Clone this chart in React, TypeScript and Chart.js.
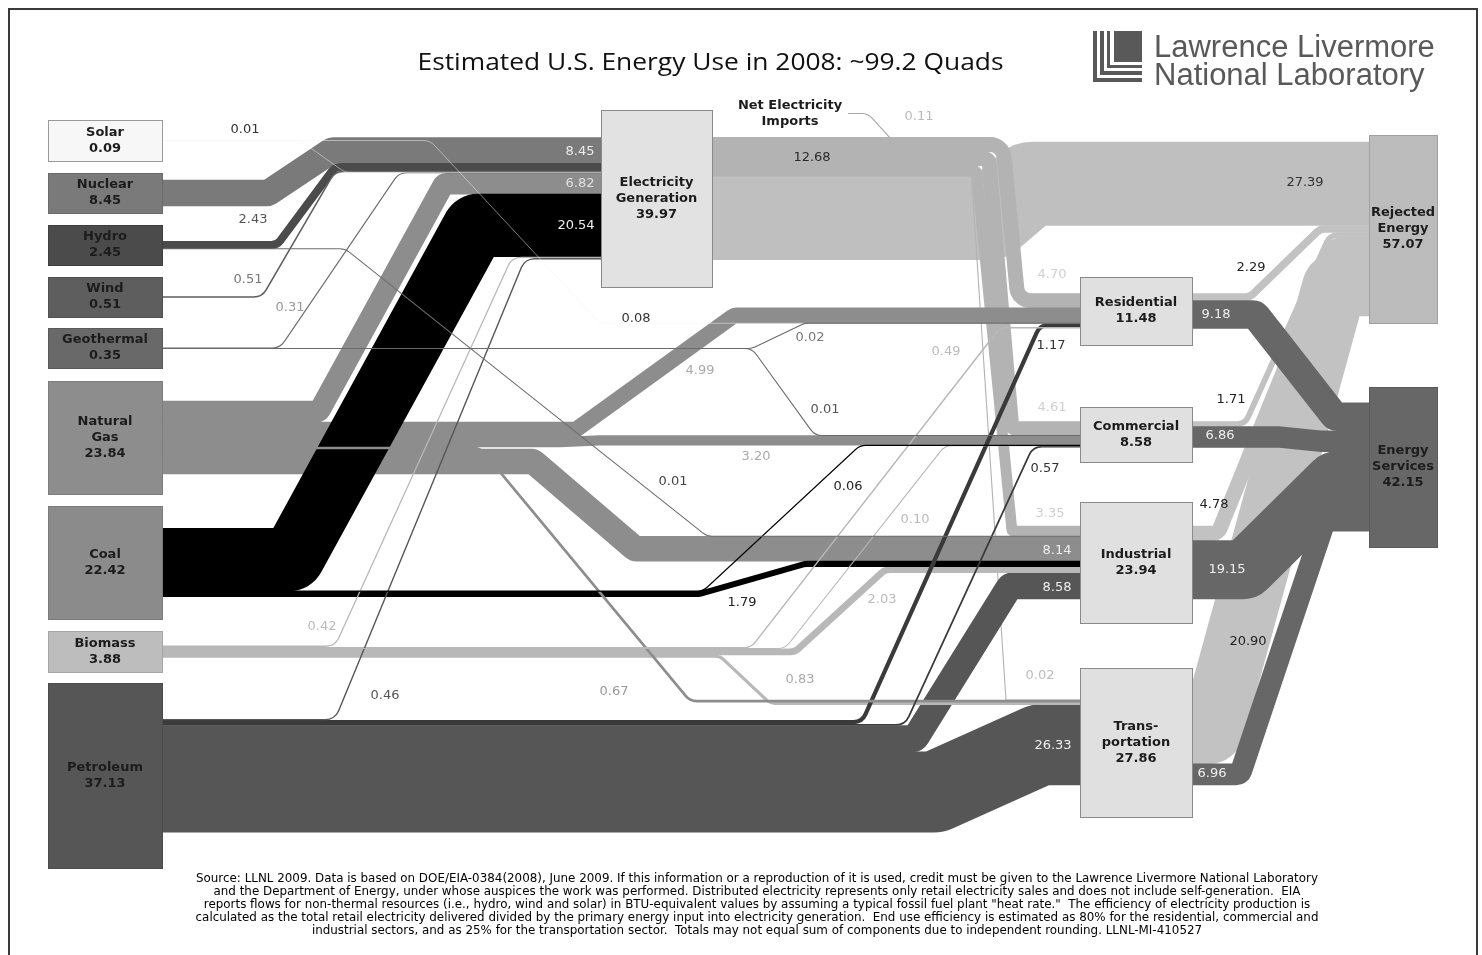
import React, { useEffect, useRef } from 'react';
import { Chart, registerables } from 'chart.js';

Chart.register(...registerables);

// ---------------- DATA ----------------
const nodeIds = ['solar', 'nuclear', 'hydro', 'wind', 'geothermal', 'gas', 'coal', 'biomass', 'petroleum', 'imports', 'elec', 'residential', 'commercial', 'industrial', 'transportation', 'rejected', 'services'];
const nodeNames = ['Solar', 'Nuclear', 'Hydro', 'Wind', 'Geothermal', 'Natural\nGas', 'Coal', 'Biomass', 'Petroleum', 'Net Electricity\nImports', 'Electricity\nGeneration', 'Residential', 'Commercial', 'Industrial', 'Trans-\nportation', 'Rejected\nEnergy', 'Energy\nServices'];
const nodeValues = [0.09, 8.45, 2.45, 0.51, 0.35, 23.84, 22.42, 3.88, 37.13, 0.11, 39.97, 11.48, 8.58, 23.94, 27.86, 57.07, 42.15];

const linkFrom = ['solar', 'solar', 'nuclear', 'hydro', 'hydro', 'wind', 'geothermal', 'geothermal', 'geothermal', 'gas', 'gas', 'gas', 'gas', 'gas', 'coal', 'coal', 'coal', 'biomass', 'biomass', 'biomass', 'biomass', 'biomass', 'petroleum', 'petroleum', 'petroleum', 'petroleum', 'petroleum', 'imports', 'elec', 'elec', 'elec', 'elec', 'elec', 'residential', 'residential', 'commercial', 'commercial', 'industrial', 'industrial', 'transportation', 'transportation'];
const linkTo = ['elec', 'residential', 'elec', 'elec', 'industrial', 'elec', 'elec', 'residential', 'commercial', 'elec', 'residential', 'commercial', 'transportation', 'industrial', 'elec', 'commercial', 'industrial', 'elec', 'residential', 'commercial', 'industrial', 'transportation', 'elec', 'residential', 'commercial', 'industrial', 'transportation', 'elec', 'residential', 'commercial', 'industrial', 'transportation', 'rejected', 'rejected', 'services', 'rejected', 'services', 'rejected', 'services', 'rejected', 'services'];
const linkValues = [0.01, 0.08, 8.45, 2.43, 0.01, 0.51, 0.31, 0.02, 0.01, 6.82, 4.99, 3.20, 0.67, 8.14, 20.54, 0.06, 1.79, 0.42, 0.49, 0.10, 2.03, 0.83, 0.46, 1.17, 0.57, 8.58, 26.33, 0.11, 4.70, 4.61, 3.35, 0.02, 27.39, 2.29, 9.18, 1.71, 6.86, 4.78, 19.15, 20.90, 6.96];

const titleText = 'Estimated U.S. Energy Use in 2008: ~99.2 Quads';
const logoLines = ['Lawrence Livermore', 'National Laboratory'];
const footerLines = [
  'Source: LLNL 2009. Data is based on DOE/EIA-0384(2008), June 2009. If this information or a reproduction of it is used, credit must be given to the Lawrence Livermore National Laboratory',
  'and the Department of Energy, under whose auspices the work was performed. Distributed electricity represents only retail electricity sales and does not include self-generation.  EIA',
  'reports flows for non-thermal resources (i.e., hydro, wind and solar) in BTU-equivalent values by assuming a typical fossil fuel plant "heat rate."  The efficiency of electricity production is',
  'calculated as the total retail electricity delivered divided by the primary energy input into electricity generation.  End use efficiency is estimated as 80% for the residential, commercial and',
  'industrial sectors, and as 25% for the transportation sector.  Totals may not equal sum of components due to independent rounding. LLNL-MI-410527',
];

// ---------------- LAYOUT (positions / styles) ----------------
const UNITS_PER_QUAD = 3.05;
const nodeBoxes: (number[] | null)[] = [
  [48, 120, 162, 161], [48, 173, 162, 213], [48, 225, 162, 265], [48, 277, 162, 317], [48, 328, 162, 368],
  [48, 381, 162, 494], [48, 506, 162, 619], [48, 631, 162, 672], [48, 683, 162, 868],
  null,
  [601, 110, 712, 287],
  [1080, 277, 1192, 345], [1080, 407, 1192, 462], [1080, 502, 1192, 623], [1080, 668, 1192, 817],
  [1369, 135, 1437, 323], [1369, 387, 1437, 547],
];
const importsLabelAt = [790, 113.5];
const nodeFills = ['#f7f7f7', '#7a7a7a', '#4b4b4b', '#5e5e5e', '#696969', '#8d8d8d', '#8b8b8b', '#bdbdbd', '#565656', '', '#e2e2e2', '#e0e0e0', '#e0e0e0', '#e0e0e0', '#e0e0e0', '#bcbcbc', '#676767'];
const nodeBorders = ['#9a9a9a', '#6a6a6a', '#3e3e3e', '#505050', '#5a5a5a', '#7d7d7d', '#7b7b7b', '#a5a5a5', '#4a4a4a', '', '#8a8a8a', '#8a8a8a', '#8a8a8a', '#8a8a8a', '#8a8a8a', '#a0a0a0', '#5a5a5a'];

// incoming stacking rank at target (-1 = special)
const linkDstRank = [3, 3, 0, 1, 1, 2, 4, 2, 1, 5, 1, 2, 1, 2, 6, 3, 3, 7, 5, 4, 4, 2, 8, 4, 5, 5, 3, -1, 0, 0, 0, 0, 0, 1, 0, 2, 1, 3, 2, 4, 3];
// drawing layer (lower first)
const linkLayer = [5, 5, 1, 1, 5, 5, 5, 5, 5, 1, 1, 1, 5, 1, 4, 5, 3, 5, 5, 5, 1, 1, 5, 5, 5, 1, 1, 5, 0, 0, 0, 0, 0, 0, 0, 0, 0, 0, 0, 0, 0];
// corner radius of the centre line (-1 = automatic)
const linkRadius = [-1, -1, -1, -1, -1, -1, -1, -1, -1, -1, -1, -1, -1, -1, -1, -1, -1, -1, -1, -1, -1, -1, -1, -1, -1, -1, -1, -1, 14, 4, 2, 1, -1, -1, -1, -1, -1, -1, -1, -1, -1];
// x range (layout units) of the slanted part of each flow
const linkBends = [
  [300, 345], [430, 600], [268, 332], [277, 335], [345, 707], [262, 335], [280, 399], [752, 805], [752, 815],
  [319, 444], [576, 734], [560, 600], [480, 690], [533, 635],
  [292, 475], [703, 860], [700, 805],
  [335, 512], [751, 1000], [785, 945], [795, 885], [720, 770],
  [335, 525], [862, 1040], [905, 1033], [915, 1010], [935, 1040],
  [868, 890],
  [1003, 1018], [988.8, 1012], [976.6, 1012], [971.5, 1006], [990, 1030],
  [1250, 1320], [1255, 1335], [1245, 1330], [1280, 1320], [1218, 1335], [1245, 1335], [1212, 1335], [1240, 1325],
];
const linkColors = [
  '#f2f2f2', '#f2f2f2', '#7a7a7a', '#4b4b4b', '#6e6e6e', '#5e5e5e', '#6a6a6a', '#6a6a6a', '#6a6a6a',
  '#8d8d8d', '#8d8d8d', '#8d8d8d', '#8d8d8d', '#8d8d8d',
  '#000000', '#000000', '#000000',
  '#b8b8b8', '#b8b8b8', '#b8b8b8', '#b8b8b8', '#b8b8b8',
  '#565656', '#3a3a3a', '#3a3a3a', '#565656', '#565656',
  '#a8a8a8',
  '#b3b3b3', '#b3b3b3', '#b3b3b3', '#b3b3b3', '#bfbfbf',
  '#c2c2c2', '#676767', '#c2c2c2', '#676767', '#c2c2c2', '#676767', '#c2c2c2', '#676767',
];
const linkLabelAt = [
  [245, 130], [636, 319], [580, 152], [253, 220], [673, 482], [248, 280], [290, 308], [810, 338], [825, 410],
  [580, 184], [700, 371], [756, 457], [614, 692], [1057, 551],
  [576, 226], [848, 487], [742, 603],
  [322, 627], [946, 352], [915, 520], [882, 600], [800, 680],
  [385, 696], [1051, 346], [1045, 469], [1057, 588], [1053, 746],
  [919, 117],
  [1052, 275], [1052, 408], [1050, 514], [1040, 676], [1305, 183],
  [1251, 268], [1216, 315], [1231, 400], [1220, 436], [1214, 505], [1227, 570], [1248, 642], [1212, 774],
];
const linkLabelColors = [
  '#333', '#333', '#ececec', '#555', '#444', '#777', '#999', '#777', '#555',
  '#e0e0e0', '#aaa', '#aaa', '#999', '#eee',
  '#eee', '#222', '#222',
  '#bbb', '#bbb', '#bbb', '#bbb', '#aaa',
  '#555', '#333', '#333', '#eee', '#eee',
  '#bbb',
  '#d0d0d0', '#d0d0d0', '#d0d0d0', '#bbb', '#333',
  '#222', '#eee', '#222', '#eee', '#222', '#eee', '#222', '#eee',
];
const distributedLabelAt = [812, 158];
const titleAt = [710.5, 63];
const titleWidth = 586;
const footerAt = [757, 879.5];
const footerWidth = 1122;
const footerLineHeight = 13;

function roundedPolyline(ctx: CanvasRenderingContext2D, pts: number[][], r: number) {
  ctx.beginPath();
  ctx.moveTo(pts[0][0], pts[0][1]);
  const n = pts.length;
  for (let i = 1; i < n - 1; i++) {
    const p0 = pts[i - 1], p1 = pts[i], p2 = pts[i + 1];
    const ax = p0[0] - p1[0], ay = p0[1] - p1[1];
    const bx = p2[0] - p1[0], by = p2[1] - p1[1];
    const la = Math.hypot(ax, ay), lb = Math.hypot(bx, by);
    if (la < 0.01 || lb < 0.01) { ctx.lineTo(p1[0], p1[1]); continue; }
    const cos = (ax * bx + ay * by) / (la * lb);
    const inner = Math.acos(Math.max(-1, Math.min(1, cos)));
    const turn = Math.PI - inner;
    if (turn < 0.001) { ctx.lineTo(p1[0], p1[1]); continue; }
    const maxTan = Math.min(i === 1 ? la : la / 2, i === n - 2 ? lb : lb / 2);
    const rr = Math.min(r, maxTan / Math.tan(turn / 2));
    ctx.arcTo(p1[0], p1[1], p2[0], p2[1], rr);
  }
  ctx.lineTo(pts[n - 1][0], pts[n - 1][1]);
}

const sankeyPlugin = {
  id: 'energySankey',
  beforeDraw(chart: any) {
    const ctx = chart.ctx;
    ctx.save();
    ctx.fillStyle = '#ffffff';
    ctx.fillRect(0, 0, chart.width, chart.height);
    ctx.restore();
  },
  afterDraw(chart: any) {
    const ctx: CanvasRenderingContext2D = chart.ctx;
    const xs = chart.scales.x, ys = chart.scales.y;
    const X = (v: number) => xs.getPixelForValue(v);
    const Y = (v: number) => ys.getPixelForValue(v);
    const thick = (q: number) => Math.abs(Y(0) - Y(q * UNITS_PER_QUAD));
    const idx = (id: string) => nodeIds.indexOf(id);
    const L = linkValues.length;

    // stacking of flows at each node (layout units)
    const outY: number[] = new Array(L).fill(0);
    const inY: number[] = new Array(L).fill(0);
    const outTop: number[] = new Array(nodeIds.length).fill(0);
    nodeIds.forEach((id, ni) => {
      const box = nodeBoxes[ni];
      if (!box) return;
      const cy = (box[1] + box[3]) / 2;
      const outs = [] as number[];
      for (let l = 0; l < L; l++) if (linkFrom[l] === id) outs.push(l);
      let tot = outs.reduce((s, l) => s + linkValues[l] * UNITS_PER_QUAD, 0);
      let y = cy - tot / 2;
      outTop[ni] = y;
      outs.forEach((l) => { const h = linkValues[l] * UNITS_PER_QUAD; outY[l] = y + h / 2; y += h; });
      const ins = [] as number[];
      for (let l = 0; l < L; l++) if (linkTo[l] === id && linkDstRank[l] >= 0) ins.push(l);
      ins.sort((a, b) => linkDstRank[a] - linkDstRank[b]);
      tot = ins.reduce((s, l) => s + linkValues[l] * UNITS_PER_QUAD, 0);
      y = cy - tot / 2;
      ins.forEach((l) => { const h = linkValues[l] * UNITS_PER_QUAD; inY[l] = y + h / 2; y += h; });
    });

    const route = (l: number): number[][] => {
      const s = idx(linkFrom[l]), t = idx(linkTo[l]);
      const [xa, xb] = linkBends[l];
      if (!nodeBoxes[s]) {
        const sx = importsLabelAt[0] + 58, sy = importsLabelAt[1];
        return [[sx, sy], [xa, sy], [xb, outTop[t] + 0.5]];
      }
      const sb = nodeBoxes[s] as number[], tb = nodeBoxes[t] as number[];
      return [[sb[2], outY[l]], [xa, outY[l]], [xb, inY[l]], [tb[0], inY[l]]];
    };

    // draw order: by layer, then larger flows first within a layer
    const order: number[] = [];
    for (let l = 0; l < L; l++) order.push(l);
    const groupRank = (l: number) => (linkFrom[l] === 'elec' ? 0 : linkTo[l] === 'rejected' ? 1 : linkTo[l] === 'services' ? 2 : 3);
    order.sort((a, b) => linkLayer[a] - linkLayer[b] || groupRank(a) - groupRank(b) || linkValues[b] - linkValues[a]);

    ctx.save();
    ctx.lineCap = 'butt';
    order.forEach((l) => {
      const t = thick(linkValues[l]);
      const pts = route(l).map((p) => [X(p[0]), Y(p[1])]);
      const w = linkFrom[l] === 'solar' ? 0.5 : t >= 2 ? t + 0.6 : Math.max(t, 1.1);
      const r = linkRadius[l] >= 0 ? linkRadius[l] : Math.max(5, 15 - w / 2);
      roundedPolyline(ctx, pts, r);
      ctx.strokeStyle = linkColors[l];
      ctx.lineWidth = w;
      ctx.stroke();
    });
    ctx.restore();

    // node boxes
    ctx.save();
    nodeBoxes.forEach((b, i) => {
      if (!b) return;
      const x0 = Math.round(X(b[0])) + 0.5, y0 = Math.round(Y(b[1])) + 0.5;
      const x1 = Math.round(X(b[2])) + 0.5, y1 = Math.round(Y(b[3])) + 0.5;
      ctx.fillStyle = nodeFills[i];
      ctx.fillRect(x0, y0, x1 - x0, y1 - y0);
      ctx.strokeStyle = nodeBorders[i];
      ctx.lineWidth = 1;
      ctx.strokeRect(x0, y0, x1 - x0, y1 - y0);
    });
    ctx.restore();

    // node labels
    ctx.save();
    ctx.textAlign = 'center';
    ctx.textBaseline = 'middle';
    ctx.font = 'bold 13px "DejaVu Sans"';
    ctx.fillStyle = '#1c1c1c';
    nodeIds.forEach((id, i) => {
      const b = nodeBoxes[i];
      const lines = nodeNames[i].split('\n');
      if (b) lines.push(nodeValues[i].toFixed(2));
      const cx = b ? (b[0] + b[2]) / 2 : importsLabelAt[0];
      let cy = b ? (b[1] + b[3]) / 2 : importsLabelAt[1];
      if (id === 'elec') cy = 199;
      const lh = 16;
      lines.forEach((ln, k) => {
        ctx.fillText(ln, X(cx), Y(cy + (k - (lines.length - 1) / 2) * lh));
      });
    });
    ctx.restore();

    // flow labels
    ctx.save();
    ctx.textAlign = 'center';
    ctx.textBaseline = 'middle';
    ctx.font = '13px "DejaVu Sans"';
    for (let l = 0; l < L; l++) {
      ctx.fillStyle = linkLabelColors[l];
      ctx.fillText(linkValues[l].toFixed(2), X(linkLabelAt[l][0]), Y(linkLabelAt[l][1]));
    }
    let dist = 0;
    for (let l = 0; l < L; l++) if (linkFrom[l] === 'elec' && linkTo[l] !== 'rejected') dist += linkValues[l];
    ctx.fillStyle = '#2a2a2a';
    ctx.fillText(dist.toFixed(2), X(distributedLabelAt[0]), Y(distributedLabelAt[1]));
    ctx.restore();

    // title
    ctx.save();
    ctx.fillStyle = '#111111';
    ctx.font = '500 23px "Open Sans"';
    ctx.textAlign = 'center';
    ctx.textBaseline = 'middle';
    const tw = ctx.measureText(titleText).width;
    ctx.translate(X(titleAt[0]), Y(titleAt[1]));
    ctx.scale(titleWidth / tw, 1);
    ctx.fillText(titleText, 0, 0);
    ctx.restore();

    // logo
    ctx.save();
    ctx.fillStyle = '#595959';
    const rect = (a: number, b: number, c: number, d: number) => ctx.fillRect(X(a), Y(b), X(c) - X(a), Y(d) - Y(b));
    rect(1093, 31, 1097, 82); rect(1093, 78, 1142, 82);
    rect(1100, 31, 1104, 75); rect(1100, 71, 1142, 75);
    rect(1107, 31, 1110, 68); rect(1107, 65, 1142, 68);
    rect(1114, 31, 1142, 62);
    ctx.font = '31px "Liberation Sans"';
    ctx.textAlign = 'left';
    ctx.textBaseline = 'alphabetic';
    ctx.fillText(logoLines[0], X(1154), Y(57));
    ctx.fillText(logoLines[1], X(1154), Y(85));
    ctx.restore();

    // footer
    ctx.save();
    ctx.fillStyle = '#000000';
    ctx.font = '11.5px "DejaVu Sans"';
    ctx.textAlign = 'center';
    ctx.textBaseline = 'middle';
    const fw = ctx.measureText(footerLines[0]).width;
    const sx = footerWidth / fw;
    footerLines.forEach((ln, k) => {
      ctx.save();
      ctx.translate(X(footerAt[0]), Y(footerAt[1] + k * footerLineHeight));
      ctx.scale(sx, 1);
      ctx.fillText(ln, 0, 0);
      ctx.restore();
    });
    ctx.restore();

    // frame
    ctx.save();
    ctx.strokeStyle = '#3a3a3a';
    ctx.lineWidth = 2;
    ctx.strokeRect(X(9), Y(9), X(1477) - X(9), Y(970) - Y(9));
    ctx.restore();
  },
};

export default function App() {
  const ref = useRef<HTMLCanvasElement | null>(null);
  useEffect(() => {
    if (!ref.current) return;
    const chart = new Chart(ref.current, {
      type: 'scatter',
      data: { datasets: [{ data: [], pointRadius: 0 }] },
      options: {
        animation: false,
        responsive: false,
        events: [],
        layout: { padding: 0 },
        plugins: { legend: { display: false }, tooltip: { enabled: false }, title: { display: false } },
        scales: {
          x: { type: 'linear', min: 0, max: 1482, display: false },
          y: { type: 'linear', min: 0, max: 955, reverse: true, display: false },
        },
      } as any,
      plugins: [sankeyPlugin as any],
    });
    return () => chart.destroy();
  }, []);
  return (
    <div style={{ position: 'fixed', left: 0, top: 0, width: 1482, height: 955, background: '#fff' }}>
      <canvas ref={ref} width={1482} height={955} style={{ display: 'block', width: 1482, height: 955 }} />
    </div>
  );
}
